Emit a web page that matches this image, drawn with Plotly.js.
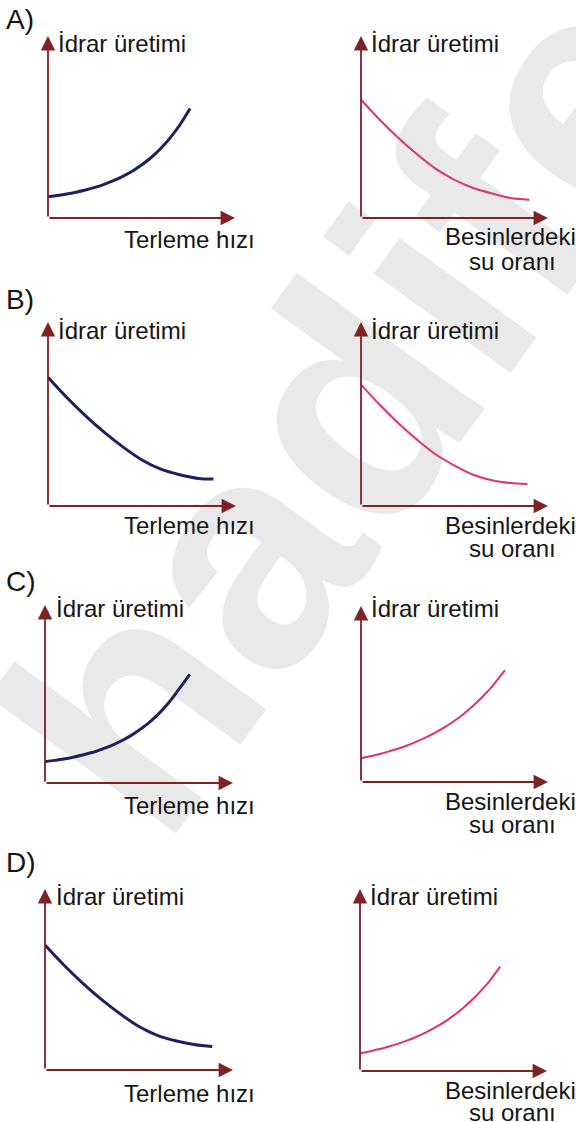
<!DOCTYPE html>
<html>
<head>
<meta charset="utf-8">
<script src="https://cdn.plot.ly/plotly-3.0.1.min.js"></script>
<style>
html,body{margin:0;padding:0;background:#fff}
#wrap{position:relative;width:576px;height:1122px;overflow:hidden}
#wm,#chart{position:absolute;left:0;top:0;width:576px;height:1122px}
</style>
</head>
<body>
<div id="wrap"><div id="wm"></div><div id="chart"></div></div>
<script>
// ---- data (fractions of each panel's axis length) ----
const optionLabels = ["A)", "B)", "C)", "D)"];
const yAxisLabel = "İdrar üretimi";
const leftXLabel = "Terleme hızı";
const rightXLabel1 = "Besinlerdeki";
const rightXLabel2 = "su oranı";
const watermarkText = "hadife";

const aLeftX  = [0, 0.05, 0.1, 0.15, 0.2, 0.25, 0.3, 0.35, 0.4, 0.45, 0.5, 0.55, 0.6, 0.65, 0.7, 0.76];
const aLeftY  = [0.117, 0.124, 0.132, 0.142, 0.154, 0.168, 0.185, 0.205, 0.229, 0.257, 0.291, 0.331, 0.379, 0.436, 0.504, 0.602];
const aRightX = [0, 0.1, 0.2, 0.3, 0.4, 0.5, 0.6, 0.7, 0.8, 0.9];
const aRightY = [0.65, 0.54, 0.44, 0.35, 0.27, 0.21, 0.165, 0.135, 0.11, 0.10];

const bLeftX  = [0, 0.1, 0.2, 0.3, 0.4, 0.5, 0.6, 0.7, 0.8, 0.88];
const bLeftY  = [0.70, 0.59, 0.49, 0.40, 0.32, 0.25, 0.20, 0.17, 0.15, 0.147];
const bRightX = [0, 0.1, 0.2, 0.3, 0.4, 0.5, 0.6, 0.7, 0.8, 0.89];
const bRightY = [0.66, 0.55, 0.45, 0.36, 0.28, 0.22, 0.17, 0.14, 0.125, 0.12];

const cLeftX  = [0, 0.05, 0.1, 0.15, 0.2, 0.25, 0.3, 0.35, 0.4, 0.45, 0.5, 0.55, 0.6, 0.65, 0.7, 0.77];
const cLeftY  = [0.12, 0.127, 0.135, 0.145, 0.157, 0.171, 0.189, 0.209, 0.233, 0.262, 0.296, 0.336, 0.384, 0.441, 0.509, 0.61];
const cRightX = [0, 0.05, 0.1, 0.15, 0.2, 0.25, 0.3, 0.35, 0.4, 0.45, 0.5, 0.55, 0.6, 0.65, 0.7, 0.77];
const cRightY = [0.135, 0.146, 0.159, 0.174, 0.19, 0.209, 0.231, 0.255, 0.282, 0.313, 0.348, 0.388, 0.433, 0.484, 0.542, 0.636];

const dLeftX  = [0, 0.1, 0.2, 0.3, 0.4, 0.5, 0.6, 0.7, 0.8, 0.89];
const dLeftY  = [0.69, 0.58, 0.48, 0.39, 0.31, 0.24, 0.19, 0.16, 0.14, 0.13];
const dRightX = [0, 0.05, 0.1, 0.15, 0.2, 0.25, 0.3, 0.35, 0.4, 0.45, 0.5, 0.55, 0.6, 0.65, 0.7, 0.75];
const dRightY = [0.097, 0.1075, 0.119, 0.133, 0.149, 0.167, 0.187, 0.211, 0.238, 0.269, 0.304, 0.345, 0.391, 0.444, 0.504, 0.573];

// ---- layout helpers ----
const W = 576, H = 1122;
const navy = "#1c2160", pink = "#e0336e", axisCol = "#7e2226";
const fontFam = "Liberation Sans, Arial, Helvetica, sans-serif";

// panel frames in pixels: [x0 (y-axis), x1 (x arrow tip), y0 (x-axis), y1 (y arrow tip)]
const frames = [
  [48, 235, 218, 36], [361, 548, 218, 36],
  [48, 236, 506, 322], [361, 548, 506, 322],
  [45, 233, 783, 605], [361, 548, 782, 606],
  [45, 233, 1070, 889], [360, 547, 1071, 889]
];
const series = [
  [aLeftX, aLeftY, navy], [aRightX, aRightY, pink],
  [bLeftX, bLeftY, navy], [bRightX, bRightY, pink],
  [cLeftX, cLeftY, navy], [cRightX, cRightY, pink],
  [dLeftX, dLeftY, navy], [dRightX, dRightY, pink]
];

const px = x => x / W;
const py = y => 1 - y / H;

// ---- watermark layer (drawn underneath) ----
Plotly.newPlot("wm", [], {
  width: W, height: H, margin: {l: 0, r: 0, t: 0, b: 0},
  paper_bgcolor: "#fff", plot_bgcolor: "#fff",
  xaxis: {visible: false}, yaxis: {visible: false},
  annotations: [{
    xref: "paper", yref: "paper", x: px(350), y: py(405),
    text: "<b>" + watermarkText + "</b>", showarrow: false,
    textangle: -54, font: {size: 320, color: "#e9e9e9", family: fontFam},
    xanchor: "center", yanchor: "middle"
  }]
}, {staticPlot: true, displayModeBar: false});

// ---- main chart layer ----
const data = [];
const layout = {
  width: W, height: H,
  margin: {l: 0, r: 0, t: 0, b: 0},
  paper_bgcolor: "rgba(0,0,0,0)", plot_bgcolor: "rgba(0,0,0,0)",
  showlegend: false,
  annotations: [],
  font: {family: fontFam, color: "#111"}
};

frames.forEach((f, i) => {
  const n = i === 0 ? "" : String(i + 1);
  const xa = "xaxis" + n, ya = "yaxis" + n;
  const xr = "x" + n, yr = "y" + n;
  layout[xa] = {domain: [px(f[0]), px(f[1])], range: [0, 1], visible: false, fixedrange: true, anchor: yr};
  layout[ya] = {domain: [py(f[2]), py(f[3])], range: [0, 1], visible: false, fixedrange: true, anchor: xr};
  const s = series[i];
  data.push({
    x: s[0], y: s[1], xaxis: xr, yaxis: yr, type: "scatter", mode: "lines",
    line: {color: s[2], width: s[2] === navy ? 3 : 2, shape: "spline", smoothing: 0.8},
    hoverinfo: "skip"
  });
  const arrowBase = {xref: xr, yref: yr, axref: xr, ayref: yr, text: "", showarrow: true,
    arrowhead: 2, arrowsize: 1.6, arrowwidth: 1.8, arrowcolor: axisCol, standoff: 0, startstandoff: 0};
  layout.annotations.push(Object.assign({}, arrowBase, {x: 1, y: 0, ax: 0, ay: 0}));
  layout.annotations.push(Object.assign({}, arrowBase, {x: 0, y: 1, ax: 0, ay: 0}));
});

const labelFont = {size: 24, color: "#151515", family: fontFam};
const letterFont = {size: 28, color: "#151515", family: fontFam};
function txt(t, x, y, font, xanchor) {
  layout.annotations.push({xref: "paper", yref: "paper", x: px(x), y: py(y), text: t,
    showarrow: false, font: font, xanchor: xanchor || "left", yanchor: "middle"});
}
const letterY = [19, 299, 581, 862];
const yLabY = [44, 330, 609, 896];
const yLabXL = [56, 56, 54, 54];
const yLabXR = [369, 369, 369, 368];
const xLabY = [240, 525, 805, 1093];
const besY = [237, 525, 801, 1090];
const suY = [261, 548, 824, 1112];
for (let r = 0; r < 4; r++) {
  txt(optionLabels[r], 4, letterY[r], letterFont);
  txt(yAxisLabel, yLabXL[r], yLabY[r], labelFont);
  txt(yAxisLabel, yLabXR[r], yLabY[r], labelFont);
  txt(leftXLabel, 122, xLabY[r], labelFont);
  txt(rightXLabel1, 510, besY[r], labelFont, "center");
  txt(rightXLabel2, 512, suY[r], labelFont, "center");
}

Plotly.newPlot("chart", data, layout, {staticPlot: true, displayModeBar: false});
</script>
</body>
</html>
